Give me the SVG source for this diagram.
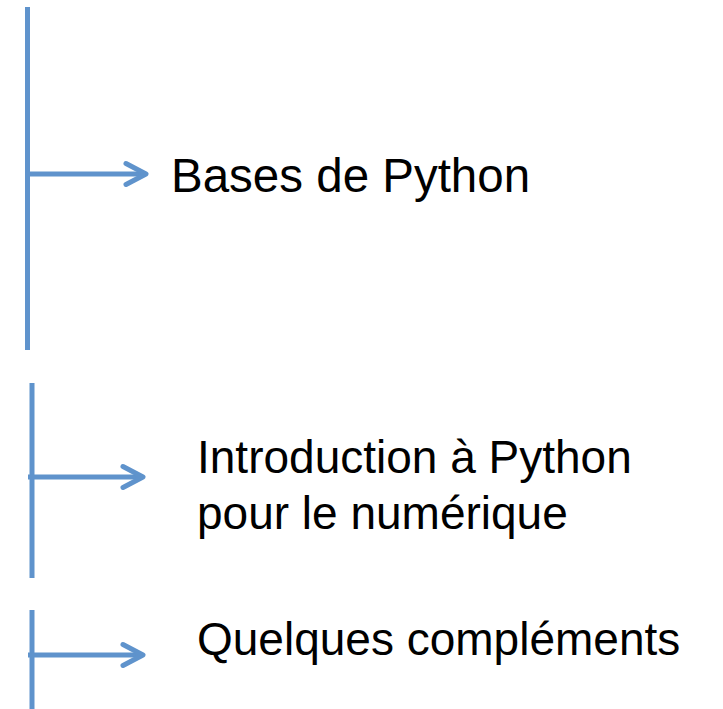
<svg xmlns="http://www.w3.org/2000/svg" width="723" height="709" viewBox="0 0 723 709">
<style>
.ln{stroke:#5f93cc;stroke-width:5;fill:none}
.ar{stroke:#5f93cc;stroke-width:5;fill:none;marker-end:url(#chev)}
.t{font-family:"Liberation Sans",Arial,sans-serif;font-size:46px;fill:#000}
.big{font-size:47.5px}
</style>
<defs>
<marker id="chev" markerUnits="userSpaceOnUse" markerWidth="32" markerHeight="32" viewBox="-26 -16 32 32" refX="0" refY="0" orient="auto">
<path d="M-20,-10.5 L0,0 L-20,10.5" fill="none" stroke="#5f93cc" stroke-width="5" stroke-linecap="round" stroke-linejoin="round"/>
</marker>
</defs>
<rect width="723" height="709" fill="#fff"/>
<g id="connectors">
<line class="ln" x1="27.5" y1="7" x2="27.5" y2="350"/>
<line class="ar" x1="30" y1="174" x2="146" y2="174"/>
<line class="ln" x1="32" y1="383" x2="32" y2="578"/>
<line class="ar" x1="28" y1="477" x2="143" y2="477"/>
<line class="ln" x1="32" y1="610" x2="32" y2="709"/>
<line class="ar" x1="28" y1="655" x2="143" y2="655"/>
</g>
<g id="node1"><text class="t big" x="171" y="192">Bases de Python</text></g>
<g id="node2"><text class="t" x="197" y="473">Introduction à Python</text><text class="t" x="197" y="529">pour le numérique</text></g>
<g id="node3"><text class="t" x="197" y="655">Quelques compléments</text></g>
</svg>
